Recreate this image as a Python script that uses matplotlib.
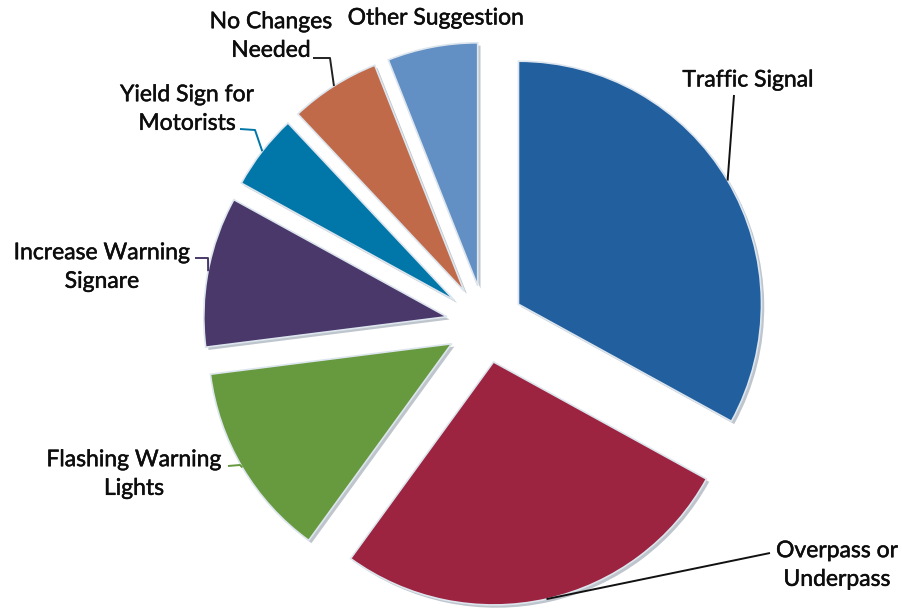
import matplotlib.pyplot as plt
import numpy as np
from matplotlib import patheffects as pe

labels = ["Traffic Signal", "Overpass or\nUnderpass", "Flashing Warning\nLights",
          "Increase Warning\nSignare", "Yield Sign for\nMotorists",
          "No Changes\nNeeded", "Other Suggestion"]
values = [33, 27, 13, 10, 5, 6, 6]
colors = ["#215f9f", "#9c2440", "#67993f", "#4a386b", "#0176a8", "#c06a4a", "#6390c4"]
line_colors = ["#111111", "#111111", "#67993f", "#4a386b", "#0176a8", "#222222", None]

W, H = 902, 610
CX, CY, R = 485, 324, 243  # pie centre / radius in pixels


def px(x, y):
    return ((x - CX) / R, (CY - y) / R)


fig = plt.figure(figsize=(W / 100, H / 100), dpi=100)
ax = fig.add_axes([0, 0, 1, 1])

wedges, _ = ax.pie(values, colors=colors, startangle=90, counterclock=False,
                   explode=[0.16] * len(values), radius=1,
                   wedgeprops=dict(edgecolor="#dde6ee", linewidth=1.2))
for w in wedges:
    w.set_path_effects([pe.SimplePatchShadow(offset=(2, -2), shadow_rgbFace="#6f7f8f", alpha=0.45),
                        pe.Normal()])

ax.set_xlim(-CX / R, (W - CX) / R)
ax.set_ylim(-(H - CY) / R, CY / R)
ax.set_aspect("equal")
ax.axis("off")

# label centres and leader-line elbows (pixels)
label_pos = [(748, 80), (837, 565), (134, 474), (102, 267), (187, 109), (271, 36), (436, 18)]
elbows = [[(734, 95)], [(770, 553)], [(240, 465), (228, 466)], [(208, 258), (195, 258)],
          [(255, 130), (240, 129)], [(330, 58), (313, 58)], []]

for w, lab, pos, elb, lc in zip(wedges, labels, label_pos, elbows, line_colors):
    t = ax.text(*px(*pos), lab, ha="center", va="center", multialignment="center",
                fontsize=16.5, family=["Lato", "DejaVu Sans"], color="#0d0d0d", linespacing=1.45)
    t.set_path_effects([pe.withStroke(linewidth=0.35, foreground="#0d0d0d")])
    if lc is None:
        continue
    mid = np.radians((w.theta1 + w.theta2) / 2)
    cx, cy = w.center
    pts = [(cx + w.r * np.cos(mid), cy + w.r * np.sin(mid))] + [px(*p) for p in elb]
    xs, ys = zip(*pts)
    ax.plot(xs, ys, color=lc, lw=1.4, solid_capstyle="butt")

fig.savefig("out.png", dpi=100, facecolor="white")
